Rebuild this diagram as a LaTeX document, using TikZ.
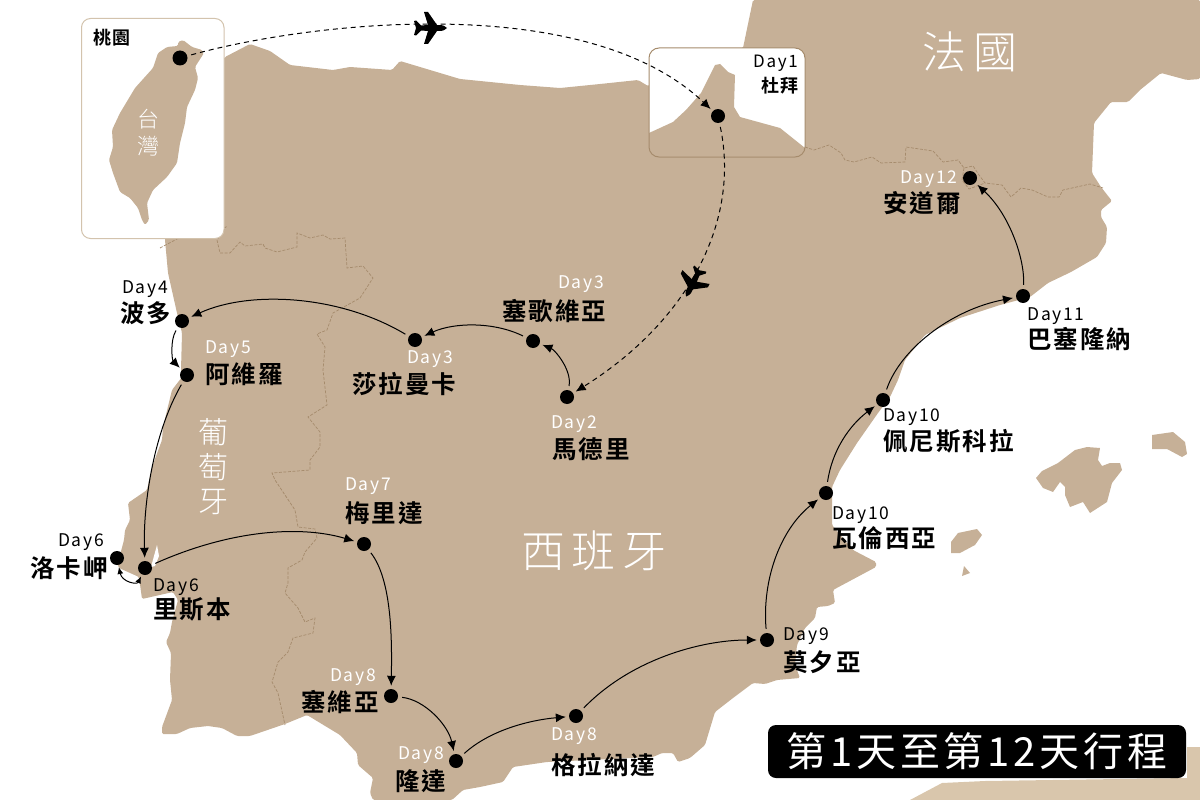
\documentclass[tikz,border=0pt]{standalone}
\usepackage{fontspec}
\usetikzlibrary{arrows.meta}
\setmainfont{Noto Sans CJK TC}
\newfontfamily\dayfont{Noto Sans CJK TC}[LetterSpace=10]
\newfontfamily\namefont{Noto Sans CJK TC}[LetterSpace=8,BoldFont=* Bold]
\newfontfamily\titlefont{Noto Sans CJK TC}[LetterSpace=9.5]
\newfontfamily\landfont{Noto Sans CJK TC Light}[LetterSpace=14]
\definecolor{land}{HTML}{C6B097}
\definecolor{landpale}{HTML}{D9C6AC}
\definecolor{borderline}{HTML}{A58B6C}
\definecolor{boxline}{HTML}{D3C3AD}
\tikzset{
    stop/.style={circle,fill=black,inner sep=0pt,minimum size=14pt},
    day/.style={inner sep=0pt,anchor=west,yshift=-1.5pt,font=\dayfont\fontsize{17.5}{18}\selectfont},
    place/.style={inner sep=0pt,anchor=west,font=\namefont\bfseries\fontsize{24.5}{25}\selectfont},
    country/.style={inner sep=0pt,text=white,font=\landfont\fontsize{#1}{#1}\selectfont},
    route/.style={-{Latex[length=10pt,width=9pt]},line width=1pt,shorten <=4pt,shorten >=3pt},
    flight/.style={route,dash pattern=on 5pt off 4pt},
    frontier/.style={draw=borderline,line width=0.7pt,dash pattern=on 3pt off 1.5pt},
    jetplane/.pic={
        \fill[black] (16,0) .. controls (12,-3) .. (6,-3) -- (-3,-16) -- (-7,-16) -- (-3,-3)
            -- (-10,-2.5) -- (-15,-7.5) -- (-17,-7) -- (-15,0) -- (-17,7) -- (-15,7.5)
            -- (-10,2.5) -- (-3,3) -- (-7,16) -- (-3,16) -- (6,3) .. controls (12,3) .. (16,0) -- cycle;
    }
}
\begin{document}
\begin{tikzpicture}[x=1pt,y=-1pt]
    \useasboundingbox (0,0) rectangle (1200,800);

    % Mainland
    \fill[land,rounded corners=1.5pt] (165,240) -- (165,150) -- (225,57) -- (250,44) -- (270,51) -- (290,65)
        -- (333,70) -- (350,67) -- (392,70) -- (400,61) -- (460,79) -- (520,85) -- (560,88) -- (600,84)
        -- (638,80) -- (648,86) -- (743,48) -- (753,0) -- (1200,0) -- (1200,79) -- (1187,80) -- (1161,73)
        -- (1140,90) -- (1128,102) -- (1111,102) -- (1094,123) -- (1092,173) -- (1101,187) -- (1112,201)
        -- (1101,210) -- (1101,217) -- (1107,227) -- (1106,243) -- (1097,257) -- (1071,272) -- (1048,283)
        -- (1030,297) -- (1000,305) -- (960,318) -- (925,335) -- (905,360) -- (898,380) -- (890,397)
        -- (878,413) -- (857,443) -- (840,470) -- (832,487) -- (832,525) -- (853,550) -- (876,562)
        -- (876,567) -- (833,590) -- (835,603) -- (828,606) -- (817,607) -- (815,618) -- (805,628)
        -- (797,645) -- (795,665) -- (800,678) -- (777,680) -- (765,684) -- (753,683) -- (733,698)
        -- (715,712) -- (705,745) -- (690,758) -- (678,762) -- (673,753) -- (662,753) -- (653,757)
        -- (547,762) -- (513,767) -- (503,782) -- (480,787) -- (463,790) -- (452,800) -- (373,800)
        -- (370,793) -- (373,778) -- (358,765) -- (357,753) -- (340,735) -- (307,715) -- (285,724)
        -- (250,736) -- (237,736) -- (222,728) -- (208,726) -- (190,728) -- (177,734) -- (162,734)
        -- (162,727) -- (172,700) -- (170,680) -- (171,653) -- (166,642) -- (170,633) -- (172,622)
        -- (178,600) -- (173,592) -- (142,599) -- (139,577) -- (119,568) -- (117,563) -- (120,555)
        -- (124,540) -- (125,530) -- (130,520) -- (128,503) -- (147,490) -- (152,467) -- (162,440)
        -- (163,427) -- (172,390) -- (182,377) -- (181,370) -- (182,333) -- (177,313) -- (168,273) -- cycle;
    \fill[white] (157,545) -- (159,556) -- (155,566) -- (151,567) -- cycle;

    % Islands
    \fill[land] (1036,478) -- (1042,471) -- (1058,463) -- (1075,450) -- (1087,447) -- (1100,448) -- (1098,460)
        -- (1102,466) -- (1110,463) -- (1120,463) -- (1122,470) -- (1112,483) -- (1107,502) -- (1090,513)
        -- (1083,502) -- (1070,507) -- (1065,495) -- (1065,487) -- (1060,482) -- (1053,492) -- (1043,488) -- cycle;
    \fill[land] (1152,435) -- (1173,432) -- (1185,442) -- (1187,454) -- (1182,457) -- (1167,449) -- (1152,449) -- cycle;
    \fill[land] (951,542) -- (958,533) -- (977,529) -- (982,535) -- (975,545) -- (960,553) -- (951,553) -- cycle;
    \fill[land] (964,566) -- (970,573) -- (962,576) -- cycle;
    \fill[landpale] (910,800) -- (942,783) -- (985,781) -- (1187,778) -- (1187,747) -- (1200,747) -- (1200,800) -- cycle;

    % Frontiers
    \draw[frontier] (805,147) -- (814,150) -- (829,145) -- (841,153) -- (845,160) -- (854,162) -- (872,157)
        -- (881,163) -- (905,162) -- (906,147) -- (933,151) -- (943,162) -- (958,160) -- (964,168)
        -- (973,166) -- (979,175) -- (985,183) -- (1002,185) -- (1011,197) -- (1021,188) -- (1032,190)
        -- (1048,197) -- (1059,197) -- (1063,190) -- (1090,184) -- (1103,188);
    \draw[frontier] (964,168) -- (962,180) -- (969,189) -- (985,183);
    \draw[frontier] (160,248) -- (177,239) -- (226,227) -- (217,240) -- (220,253) -- (230,253) -- (240,242)
        -- (245,246) -- (263,244) -- (265,248) -- (277,252) -- (297,247) -- (297,233) -- (310,238)
        -- (323,235) -- (330,239) -- (345,238) -- (347,268) -- (363,266) -- (373,278) -- (360,298)
        -- (333,313) -- (327,330) -- (317,334) -- (325,347) -- (323,370) -- (327,405) -- (308,417)
        -- (320,432) -- (320,447) -- (310,460) -- (310,470) -- (272,473) -- (275,480) -- (295,510)
        -- (298,527) -- (315,529) -- (317,538) -- (305,552) -- (302,560) -- (288,568) -- (288,583)
        -- (285,593) -- (298,608) -- (305,622) -- (315,618) -- (313,633) -- (293,638) -- (288,652)
        -- (278,662) -- (272,682) -- (278,693) -- (285,725);

    % Taiwan inset
    \draw[boxline,fill=white,line width=1pt,rounded corners=9pt] (81.5,18.5) rectangle (224,238.5);
    \fill[land,rounded corners=1.5pt] (178,42) -- (183,40) -- (192,47) -- (202,50) -- (204,53) -- (195,67) -- (198,78)
        -- (195,90) -- (187,107) -- (185,123) -- (180,143) -- (177,163) -- (167,177) -- (153,190)
        -- (147,203) -- (149,220) -- (145,225) -- (142,220) -- (138,208) -- (130,198) -- (120,192)
        -- (113,173) -- (109,160) -- (113,147) -- (112,130) -- (120,113) -- (135,88) -- (153,68)
        -- (158,53) -- (167,47) -- (178,46) -- cycle;
    \node at (148,119) [country=22] (taiA) {台};
    \node at (148,146) [country=22] (taiB) {灣};

    % Dubai inset
    \fill[white,rounded corners=10pt] (649,48) rectangle (805,157);
    \begin{scope}
        \clip[rounded corners=10pt] (649,48) rectangle (805,157);
        \fill[land] (649,133) -- (673,122) -- (686,110) -- (701,93) -- (709,77) -- (715,65) -- (720,64)
            -- (728,72) -- (735,75) -- (734,107) -- (740,117) -- (780,128) -- (805,148) -- (805,157) -- (649,157) -- cycle;
    \end{scope}
    \draw[borderline,line width=1pt,rounded corners=10pt] (649,48) rectangle (805,157);

    % Stops
    \node at (180,58) [stop,minimum size=15pt] (taoyuan) {};
    \node at (718,116) [stop] (dubai) {};
    \node at (567,397) [stop] (madrid) {};
    \node at (533,341) [stop] (segovia) {};
    \node at (415,340) [stop] (salamanca) {};
    \node at (182,321) [stop] (porto) {};
    \node at (187,375) [stop] (aveiro) {};
    \node at (145,568) [stop] (lisbon) {};
    \node at (117,558) [stop] (roca) {};
    \node at (364,544) [stop] (merida) {};
    \node at (391,696) [stop] (sevilla) {};
    \node at (456,761) [stop] (ronda) {};
    \node at (576,716) [stop] (granada) {};
    \node at (767,640) [stop] (murcia) {};
    \node at (826,493) [stop] (valencia) {};
    \node at (883,400) [stop] (peniscola) {};
    \node at (1023,296) [stop] (barcelona) {};
    \node at (970,178) [stop] (andorra) {};

    % Flights
    \draw[flight] (taoyuan) .. controls (310,22) and (585,-10) .. (dubai);
    \draw[flight] (dubai) .. controls (740,220) and (690,320) .. (madrid);
    \pic at (431,28) {jetplane};
    \pic[rotate=-117,scale=0.95] at (693,283) {jetplane};

    % Routes
    \draw[route] (madrid) .. controls (572,370) and (555,350) .. (segovia);
    \draw[route] (segovia) .. controls (495,322) and (455,322) .. (salamanca);
    \draw[route] (salamanca) .. controls (340,295) and (250,290) .. (porto);
    \draw[route] (porto) .. controls (170,340) and (172,360) .. (aveiro);
    \draw[route] (aveiro) .. controls (155,430) and (143,500) .. (lisbon);
    \draw[route,{Latex[length=7pt,width=6pt]}-{Latex[length=7pt,width=6pt]},shorten <=2pt,shorten >=2pt] (lisbon) .. controls (137,585) and (122,582) .. (roca);
    \draw[route] (lisbon) .. controls (230,530) and (300,525) .. (merida);
    \draw[route] (merida) .. controls (392,580) and (392,640) .. (sevilla);
    \draw[route] (sevilla) .. controls (425,700) and (448,725) .. (ronda);
    \draw[route] (ronda) .. controls (490,730) and (530,720) .. (granada);
    \draw[route] (granada) .. controls (630,660) and (700,640) .. (murcia);
    \draw[route] (murcia) .. controls (762,580) and (780,530) .. (valencia);
    \draw[route] (valencia) .. controls (832,450) and (850,425) .. (peniscola);
    \draw[route] (peniscola) .. controls (900,350) and (950,310) .. (barcelona);
    \draw[route] (barcelona) .. controls (1025,260) and (1010,215) .. (andorra);

    % Country names
    \node at (213,432) [country=30] (ptA) {葡};
    \node at (213,467) [country=30] (ptB) {萄};
    \node at (213,502) [country=30] (ptC) {牙};
    \node at (594,551) [country=44] (spain) {西班牙};
    \node at (970,52) [country=44] (france) {法國};

    % Labels
    \node at (93,38) [place,font=\namefont\bfseries\fontsize{18}{18}\selectfont] (taoyuanName) {桃園};
    \node at (798,62) [day,anchor=east,font=\dayfont\fontsize{17}{17}\selectfont] (dubaiDay) {Day1};
    \node at (799,86) [place,anchor=east,font=\namefont\bfseries\fontsize{18}{18}\selectfont] (dubaiName) {杜拜};
    \node at (900,178) [day,text=white] (andorraDay) {Day12};
    \node at (883,203) [place] (andorraName) {安道爾};
    \node at (558,283) [day,text=white] (segoviaDay) {Day3};
    \node at (502,311) [place] (segoviaName) {塞歌維亞};
    \node at (407,358) [day,text=white] (salamancaDay) {Day3};
    \node at (352,384) [place] (salamancaName) {莎拉曼卡};
    \node at (551,423) [day,text=white] (madridDay) {Day2};
    \node at (552,449) [place] (madridName) {馬德里};
    \node at (122,288) [day] (portoDay) {Day4};
    \node at (120,313) [place] (portoName) {波多};
    \node at (205,348) [day,text=white] (aveiroDay) {Day5};
    \node at (205,374) [place] (aveiroName) {阿維羅};
    \node at (345,485) [day,text=white] (meridaDay) {Day7};
    \node at (345,513) [place] (meridaName) {梅里達};
    \node at (58,541) [day] (rocaDay) {Day6};
    \node at (30,568) [place] (rocaName) {洛卡岬};
    \node at (153,586) [day] (lisbonDay) {Day6};
    \node at (153,609) [place] (lisbonName) {里斯本};
    \node at (330,676) [day,text=white] (sevillaDay) {Day8};
    \node at (301,702) [place] (sevillaName) {塞維亞};
    \node at (398,754) [day,text=white] (rondaDay) {Day8};
    \node at (395,781) [place] (rondaName) {隆達};
    \node at (551,735) [day,text=white] (granadaDay) {Day8};
    \node at (551,765) [place] (granadaName) {格拉納達};
    \node at (783,635) [day] (murciaDay) {Day9};
    \node at (783,662) [place] (murciaName) {莫夕亞};
    \node at (832,514) [day] (valenciaDay) {Day10};
    \node at (832,538) [place] (valenciaName) {瓦倫西亞};
    \node at (883,416) [day] (peniscolaDay) {Day10};
    \node at (883,441) [place] (peniscolaName) {佩尼斯科拉};
    \node at (1027,315) [day] (barcelonaDay) {Day11};
    \node at (1027,339) [place] (barcelonaName) {巴塞隆納};

    % Title
    \node at (977,751.5) [fill=black,rounded corners=8pt,minimum width=418pt,minimum height=53pt,inner sep=0pt,text=white,font=\titlefont\fontsize{40}{40}\selectfont] (title) {第1天至第12天行程};
\end{tikzpicture}
\end{document}
